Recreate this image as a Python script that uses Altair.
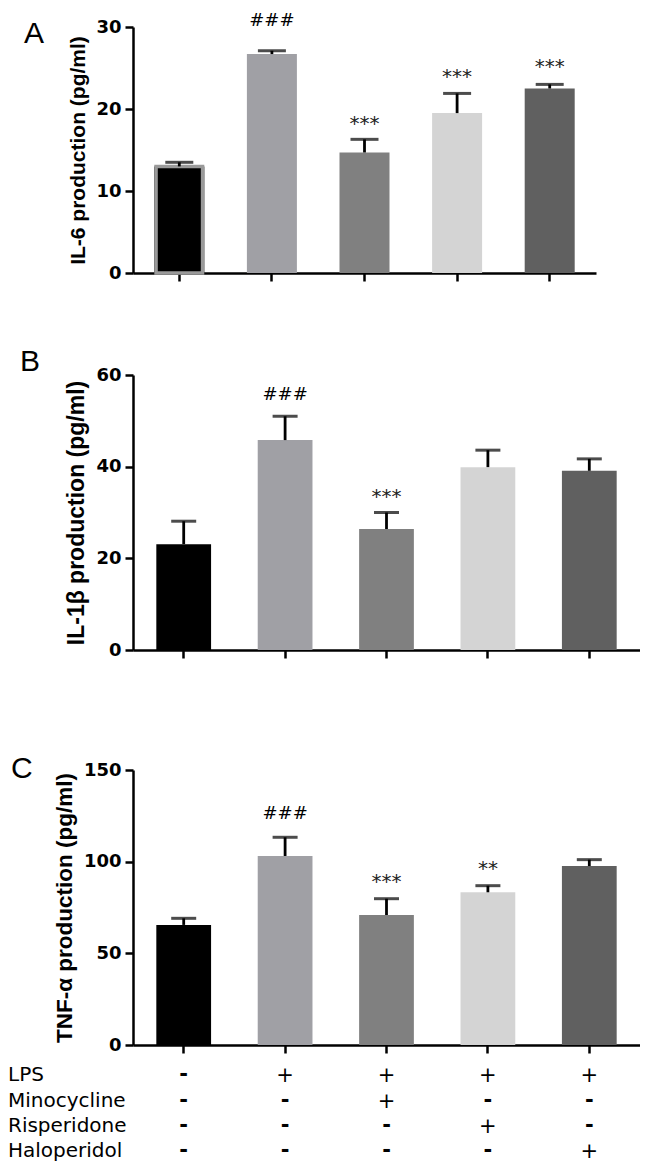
import altair as alt
import pandas as pd

# ---------------- data ----------------
groups = ["Control", "LPS", "LPS+Minocycline", "LPS+Risperidone", "LPS+Haloperidol"]
bar_colors = ["#000000", "#a0a0a5", "#808080", "#d4d4d4", "#606060"]

il6_mean = [13.0, 26.7, 14.7, 19.5, 22.5]
il6_err = [0.5, 0.4, 1.6, 2.4, 0.5]
il6_sig = ["", "###", "***", "***", "***"]
il6_sig_y = [0, 30.9, 18.9, 24.6, 25.9]

il1b_mean = [23.1, 45.8, 26.4, 39.9, 39.1]
il1b_err = [5.0, 5.2, 3.6, 3.7, 2.6]
il1b_sig = ["", "###", "***", "", ""]
il1b_sig_y = [0, 55.9, 34.8, 0, 0]

tnf_mean = [65.5, 103.1, 70.9, 83.3, 97.6]
tnf_err = [3.6, 10.2, 8.9, 3.6, 3.5]
tnf_sig = ["", "###", "***", "**", ""]
tnf_sig_y = [0, 126.4, 92.2, 99.5, 0]

treat_rows = ["LPS", "Minocycline", "Risperidone", "Haloperidol"]
treat_lps = ["-", "+", "+", "+", "+"]
treat_mino = ["-", "-", "+", "-", "-"]
treat_risp = ["-", "-", "-", "+", "-"]
treat_halo = ["-", "-", "-", "-", "+"]
treat_matrix = [treat_lps, treat_mino, treat_risp, treat_halo]

FONT_NUM = "DejaVu Sans"
FONT_TITLE = "Liberation Sans"


def panel(mean, err, sig, sig_y, ymax, yticks, ytitle, title_size, letter,
          letter_x, letter_y, width, height, cap, spacer, outline=False,
          table=None):
    df = pd.DataFrame({
        "group": groups,
        "mean": mean,
        "top": [m + e for m, e in zip(mean, err)],
        "color": bar_colors,
        "sig": sig,
        "sig_y": sig_y,
    })
    xenc = alt.X(
        "group:N", sort=groups,
        scale=alt.Scale(paddingInner=0.46, paddingOuter=0.23),
        axis=alt.Axis(labels=False, title=None, ticks=True, tickSize=8,
                      tickWidth=2.5, tickColor="black", domainColor="black",
                      domainWidth=2.5, grid=False),
    )
    yenc = alt.Y(
        "mean:Q",
        scale=alt.Scale(domain=[0, ymax], nice=False, zero=True),
        axis=alt.Axis(values=yticks, title=ytitle, titleFontSize=title_size,
                      titleFont=FONT_TITLE, titleFontWeight="bold",
                      titleColor="black", titlePadding=7,
                      labelFont=FONT_NUM, labelFontWeight="bold",
                      labelFontSize=18, labelColor="black", labelPadding=4,
                      tickSize=8, tickWidth=2.5, tickColor="black",
                      domainColor="black", domainWidth=2.5, grid=False),
    )
    base = alt.Chart(df)
    bars = base.mark_bar().encode(
        x=xenc, y=yenc, fill=alt.Fill("color:N", scale=None)
    )
    layers = [bars]
    if outline:
        layers.append(
            base.transform_filter(alt.datum.group == groups[0])
            .mark_bar(width=46.5, fill="#000000", stroke="#9a9a9a",
                      strokeWidth=3.5)
            .encode(x=alt.X("group:N", sort=groups), y="mean:Q")
        )
    layers.append(
        base.mark_rule(color="black", strokeWidth=2.8).encode(
            x=alt.X("group:N", sort=groups), y="mean:Q", y2="top:Q")
    )
    layers.append(
        base.mark_tick(color="black", thickness=3, size=cap).encode(
            x=alt.X("group:N", sort=groups), y="top:Q")
    )
    layers.append(
        base.transform_filter(alt.datum.sig == "###")
        .mark_text(font=FONT_NUM, fontSize=18, baseline="middle", dy=1,
                   color="black")
        .encode(x=alt.X("group:N", sort=groups), y="sig_y:Q", text="sig:N")
    )
    layers.append(
        base.transform_filter((alt.datum.sig != "###") & (alt.datum.sig != ""))
        .mark_text(font=FONT_NUM, fontSize=20, baseline="middle", dy=6,
                   color="#222222")
        .encode(x=alt.X("group:N", sort=groups), y="sig_y:Q", text="sig:N")
    )
    lab = pd.DataFrame({"t": [letter]})
    layers.append(
        alt.Chart(lab).mark_text(align="left", baseline="middle",
                                 font=FONT_TITLE, fontSize=30, dy=2,
                                 color="black")
        .encode(x=alt.value(letter_x), y=alt.value(letter_y), text="t:N")
    )
    if spacer > 0:
        layers.append(
            alt.Chart(pd.DataFrame({"a": [0]})).mark_rule(opacity=0)
            .encode(x=alt.value(0), y=alt.value(-spacer), y2=alt.value(0))
        )
    if table is not None:
        row_y = table
        for i, rname in enumerate(treat_rows):
            py = row_y[i]
            layers.append(
                alt.Chart(pd.DataFrame({"t": [rname]}))
                .mark_text(align="left", baseline="middle", font=FONT_NUM,
                           fontSize=20, color="black")
                .encode(x=alt.value(-125), y=alt.value(py), text="t:N")
            )
            tdf = pd.DataFrame({"group": groups, "sym": treat_matrix[i]})
            layers.append(
                alt.Chart(tdf).transform_filter(alt.datum.sym == "+")
                .mark_text(align="center", baseline="middle", font=FONT_NUM,
                           fontSize=21, dy=1, color="black")
                .encode(x=alt.X("group:N", sort=groups), y=alt.value(py),
                        text="sym:N")
            )
            layers.append(
                alt.Chart(tdf).transform_filter(alt.datum.sym == "-")
                .mark_text(align="center", baseline="middle", font=FONT_NUM,
                           fontSize=21, fontWeight="bold", dy=0,
                           color="black")
                .encode(x=alt.X("group:N", sort=groups), y=alt.value(py),
                        text="sym:N")
            )
    return alt.layer(*layers).properties(width=width, height=height)


pA = panel(il6_mean, il6_err, il6_sig, il6_sig_y, 30, [0, 10, 20, 30],
           "IL-6 production (pg/ml)", 21, "A", -109, 5, 463, 246, 28, 19,
           outline=True)
pB = panel(il1b_mean, il1b_err, il1b_sig, il1b_sig_y, 60, [0, 20, 40, 60],
           "IL-1β production (pg/ml)", 23, "B", -113, -15, 507, 275, 25, 92)
pC = panel(tnf_mean, tnf_err, tnf_sig, tnf_sig_y, 150, [0, 50, 100, 150],
           "TNF-α production (pg/ml)", 22.5, "C", -122, -3, 507, 275, 25, 110,
           table=[305, 331, 356, 381])

chart = (
    alt.vconcat(pA, pB, pC, spacing=0)
    .properties(padding=0)
    .configure_view(stroke=None)
)

chart.save("out.html", embed_options={"renderer": "svg", "actions": False})
